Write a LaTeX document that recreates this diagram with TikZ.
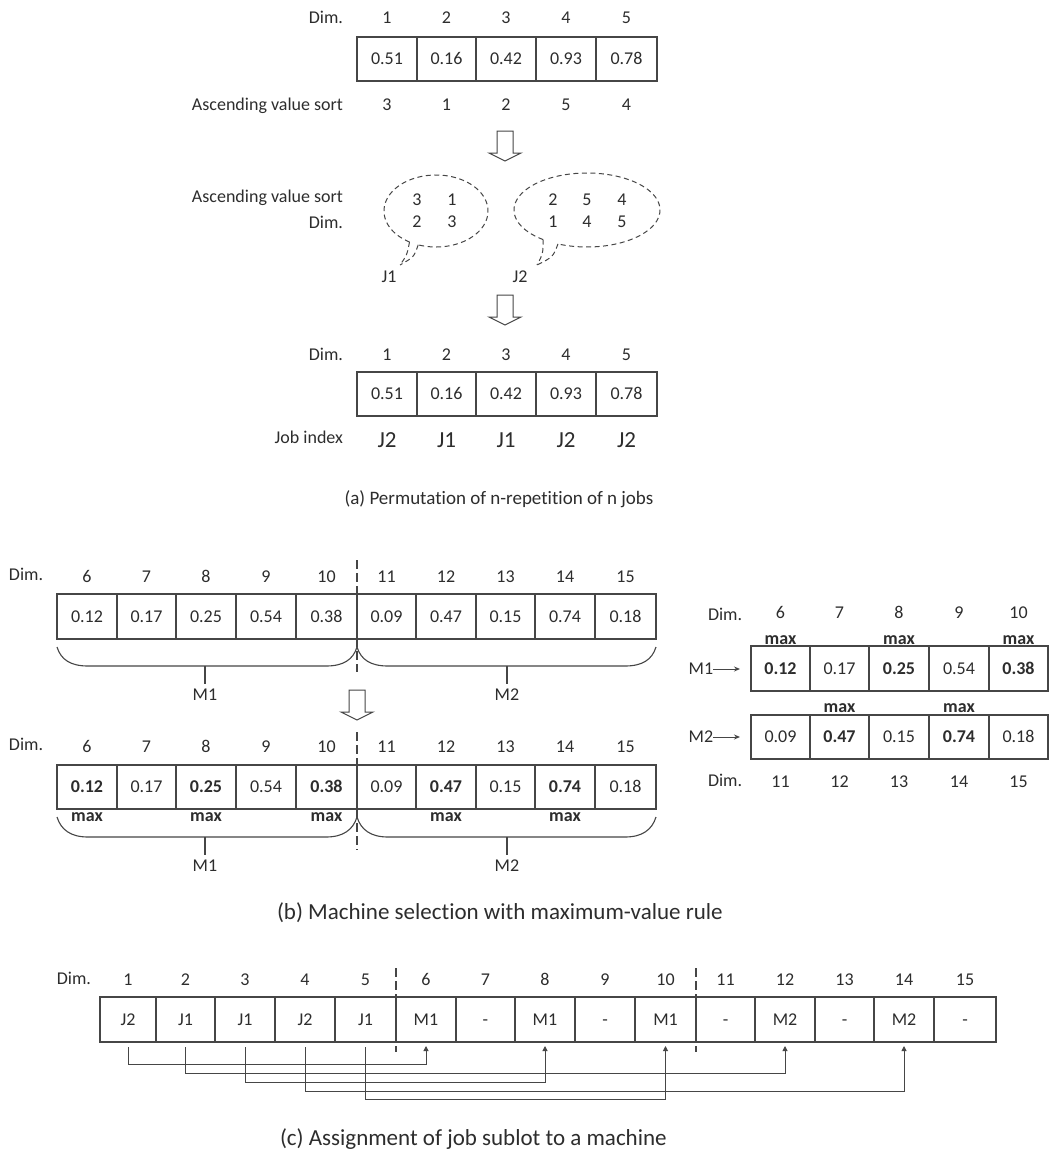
\documentclass[tikz,border=0pt]{standalone}
\usepackage{fontspec}
\setmainfont{Carlito}[Ligatures={NoCommon}]
\usetikzlibrary{arrows.meta,calc}
\definecolor{ink}{RGB}{45,45,45}
\definecolor{lin}{RGB}{70,70,70}
\tikzset{
  txt/.style={inner sep=0pt, outer sep=0pt, text=ink, font=\fontsize{18}{20}\selectfont, text height=11.6pt, text depth=0pt},
  bigtxt/.style={txt, font=\fontsize{23}{26}\selectfont, text height=14.8pt},
  captxt/.style={txt, font=\fontsize{23}{26}\selectfont, text height=14.8pt},
  cellbox/.style={draw=lin, line width=1.1pt, inner sep=0pt, outer sep=0pt, text=ink, font=\fontsize{18}{20}\selectfont, text height=11.6pt, text depth=0pt},
  bline/.style={draw=lin, line width=1.1pt},
  dline/.style={draw=lin, line width=1.3pt, dash pattern=on 9pt off 4pt},
  bubble/.style={draw=lin, line width=1pt, dash pattern=on 5pt off 3.5pt},
  conn/.style={draw=lin, line width=1pt, -{Triangle[length=5pt,width=5pt]}},
  ptr/.style={draw=lin, line width=1pt, -{Stealth[length=6pt,width=5pt]}},
  harrow/.pic={\draw[lin, line width=1pt, fill=white] (-8,0) -- (8,0) -- (8,22) -- (16,22) -- (0,30) -- (-16,22) -- (-8,22) -- cycle;}
}
\begin{document}
\begin{tikzpicture}[x=1pt,y=-1pt]
\useasboundingbox (0,0) rectangle (1049,1160);
\fill[white] (0,0) rectangle (1049,1160);

% ---------------- (a) top array
\node[txt, anchor=east] (dimA) at (343,18) {Dim.};
\node[txt, anchor=east] (ascA) at (343,105) {Ascending value sort};
\foreach \k/\xa/\xb/\val/\srt in {1/357/417/0.51/3, 2/417/476/0.16/1, 3/476/536/0.42/2, 4/536/596/0.93/5, 5/596/657/0.78/4}{
  \pgfmathsetmacro\cw{\xb-\xa}
  \pgfmathsetmacro\cx{(\xa+\xb)/2}
  \node[cellbox, minimum width=\cw pt, minimum height=44pt] (a\k) at (\cx,59) {\val};
  \node[txt] (ad\k) at (\cx,18) {\k};
  \node[txt] (as\k) at (\cx,105) {\srt};
}
\pic at (505,131) {harrow};

% ---------------- bubbles
\node[txt, anchor=east] (ascB) at (343,197) {Ascending value sort};
\node[txt, anchor=east] (dimB) at (343,223) {Dim.};
\coordinate (tip1) at (400,265);
\coordinate (tip2) at (537,265);
\draw[bubble] plot[domain=120.6:470, samples=140] ({436+52*cos(\x)},{211+36*sin(\x)});
\draw[bubble] (409.5,242) .. controls (407,255) .. (tip1);
\draw[bubble] (418.2,244.8) .. controls (414,257) .. (tip1);
\draw[bubble] plot[domain=127:473.4, samples=140] ({587+73*cos(\x)},{210+37*sin(\x)});
\draw[bubble] (543.1,239.5) .. controls (543,254) .. (tip2);
\draw[bubble] (558,243.9) .. controls (553,257) .. (tip2);
\node[txt] (b1a) at (417,200) {3};
\node[txt] (b1b) at (452,200) {1};
\node[txt] (b1c) at (417,222) {2};
\node[txt] (b1d) at (452,222) {3};
\node[txt] (b2a) at (553,200) {2};
\node[txt] (b2b) at (587,200) {5};
\node[txt] (b2c) at (622,200) {4};
\node[txt] (b2d) at (553,222) {1};
\node[txt] (b2e) at (587,222) {4};
\node[txt] (b2f) at (622,222) {5};
\node[txt] (J1lab) at (389,277) {J1};
\node[txt] (J2lab) at (520,277) {J2};
\pic at (505,295) {harrow};

% ---------------- (a) result array
\node[txt, anchor=east] (dimD) at (343,355) {Dim.};
\node[txt, anchor=east] (jobD) at (343,438) {Job index};
\foreach \k/\xa/\xb/\val/\jb in {1/357/417/0.51/J2, 2/417/476/0.16/J1, 3/476/536/0.42/J1, 4/536/596/0.93/J2, 5/596/657/0.78/J2}{
  \pgfmathsetmacro\cw{\xb-\xa}
  \pgfmathsetmacro\cx{(\xa+\xb)/2}
  \node[cellbox, minimum width=\cw pt, minimum height=44pt] (r\k) at (\cx,394) {\val};
  \node[txt] (rd\k) at (\cx,355) {\k};
  \node[bigtxt] (rj\k) at (\cx,440) {\jb};
}
\node[txt, font=\fontsize{19}{22}\selectfont, text height=12.2pt] (capA) at (499,498) {(a) Permutation of n-repetition of n jobs};

% ---------------- (b) upper array
\node[txt, anchor=west] (dimE) at (9,575) {Dim.};
\foreach \k/\xa/\xb/\val in {6/57/117/0.12, 7/117/176/0.17, 8/176/236/0.25, 9/236/296/0.54, 10/296/357/0.38, 11/357/416/0.09, 12/416/476/0.47, 13/476/535/0.15, 14/535/595/0.74, 15/595/656/0.18}{
  \pgfmathsetmacro\cw{\xb-\xa}
  \pgfmathsetmacro\cx{(\xa+\xb)/2}
  \node[cellbox, minimum width=\cw pt, minimum height=45pt] (u\k) at (\cx,616.5) {\val};
  \node[txt] (ud\k) at (\cx,577) {\k};
}
\draw[bline] (57,647) .. controls (61,660) and (71,666) .. (88,666) -- (326,666) .. controls (343,666) and (353,660) .. (357,647);
\draw[bline] (357,647) .. controls (361,660) and (371,666) .. (388,666) -- (625,666) .. controls (642,666) and (652,660) .. (656,647);
\coordinate (ubr1) at (205,666);
\coordinate (ubr2) at (507,666);
\node[txt] (um1) at (205,695) {M1};
\node[txt] (um2) at (507,695) {M2};
\draw[bline] (ubr1) -- ($(um1.north)+(0,-5)$);
\draw[bline] (ubr2) -- ($(um2.north)+(0,-5)$);
\draw[dline] (357,560) -- (357,672);
\pic at (357,690) {harrow};

% ---------------- (b) lower array
\node[txt, anchor=west] (dimF) at (9,745) {Dim.};
\foreach \k/\xa/\xb/\val in {6/57/117/\textbf{0.12}, 7/117/176/0.17, 8/176/236/\textbf{0.25}, 9/236/296/0.54, 10/296/357/\textbf{0.38}, 11/357/416/0.09, 12/416/476/\textbf{0.47}, 13/476/535/0.15, 14/535/595/\textbf{0.74}, 15/595/656/0.18}{
  \pgfmathsetmacro\cw{\xb-\xa}
  \pgfmathsetmacro\cx{(\xa+\xb)/2}
  \node[cellbox, minimum width=\cw pt, minimum height=44pt] (l\k) at (\cx,787) {\val};
  \node[txt] (ld\k) at (\cx,747) {\k};
}
\foreach \k in {6,8,10,12,14}{
  \node[txt] (lmax\k) at (l\k |- 0,816) {\textbf{max}};
}
\draw[bline] (57,817) .. controls (61,830) and (71,837) .. (88,837) -- (326,837) .. controls (343,837) and (353,830) .. (357,817);
\draw[bline] (357,817) .. controls (361,830) and (371,837) .. (388,837) -- (625,837) .. controls (642,837) and (652,830) .. (656,817);
\coordinate (lbr1) at (205,837);
\coordinate (lbr2) at (507,837);
\node[txt] (lm1) at (205,866) {M1};
\node[txt] (lm2) at (507,866) {M2};
\draw[bline] (lbr1) -- ($(lm1.north)+(0,-5)$);
\draw[bline] (lbr2) -- ($(lm2.north)+(0,-5)$);
\draw[dline] (357,732) -- (357,850);

% ---------------- (b) right side
\node[txt, anchor=west] (dimG) at (708,615) {Dim.};
\node[txt, anchor=west] (dimH) at (708,781) {Dim.};
\foreach \k/\xa/\xb/\val/\valb/\kb in {1/751/810/\textbf{0.12}/0.09/11, 2/810/869/0.17/\textbf{0.47}/12, 3/869/929/\textbf{0.25}/0.15/13, 4/929/989/0.54/\textbf{0.74}/14, 5/989/1048/\textbf{0.38}/0.18/15}{
  \pgfmathsetmacro\cw{\xb-\xa}
  \pgfmathsetmacro\cx{(\xa+\xb)/2}
  \pgfmathtruncatemacro\kd{\k+5}
  \node[cellbox, minimum width=\cw pt, minimum height=45pt] (p\k) at (\cx,668.5) {\val};
  \node[cellbox, minimum width=\cw pt, minimum height=44pt] (q\k) at (\cx,737) {\valb};
  \node[txt] (pd\k) at (\cx,613) {\kd};
  \node[txt] (qd\k) at (\cx,782) {\kb};
}
\node[txt] (pmax1) at (p1 |- 0,638.5) {\textbf{max}};
\node[txt] (pmax3) at (p3 |- 0,638.5) {\textbf{max}};
\node[txt] (pmax5) at (p5 |- 0,638.5) {\textbf{max}};
\node[txt] (qmax2) at (q2 |- 0,706.5) {\textbf{max}};
\node[txt] (qmax4) at (q4 |- 0,706.5) {\textbf{max}};
\node[txt] (rm1) at (701,669) {M1};
\node[txt] (rm2) at (701,737) {M2};
\coordinate (rm1e) at (740,669);
\coordinate (rm2e) at (740,737);
\draw[ptr] (rm1.east) -- (rm1e);
\draw[ptr] (rm2.east) -- (rm2e);

\node[captxt, anchor=west] (capB) at (277,912) {(b) Machine selection with maximum-value rule};

% ---------------- (c)
\node[txt, anchor=east] (dimI) at (91,979) {Dim.};
\foreach \k/\xa/\xb/\val in {1/100/156/J2, 2/156/215/J1, 3/215/275/J1, 4/275/335/J2, 5/335/396/J1, 6/396/456/M1, 7/456/515/-, 8/515/575/M1, 9/575/635/-, 10/635/696/M1, 11/696/755/-, 12/755/815/M2, 13/815/874/-, 14/874/934/M2, 15/934/996/-}{
  \pgfmathsetmacro\cw{\xb-\xa}
  \pgfmathsetmacro\cx{(\xa+\xb)/2}
  \node[cellbox, minimum width=\cw pt, minimum height=45pt] (c\k) at (\cx,1019.5) {\val};
  \node[txt] (cd\k) at (\cx,980) {\k};
}
\draw[dline] (396,968) -- (396,1052);
\draw[dline] (696,968) -- (696,1052);
\draw[conn] ($(c1.south)+(0,5)$) -- ++(0,17) -| ($(c6.south)+(0,4)$);
\draw[conn] ($(c2.south)+(0,5)$) -- ++(0,26) -| ($(c12.south)+(0,4)$);
\draw[conn] ($(c3.south)+(0,5)$) -- ++(0,35) -| ($(c8.south)+(0,4)$);
\draw[conn] ($(c4.south)+(0,5)$) -- ++(0,44) -| ($(c14.south)+(0,4)$);
\draw[conn] ($(c5.south)+(0,5)$) -- ++(0,52) -| ($(c10.south)+(0,4)$);

\node[captxt, anchor=west] (capC) at (280,1138) {(c) Assignment of job sublot to a machine};
\end{tikzpicture}
\end{document}
